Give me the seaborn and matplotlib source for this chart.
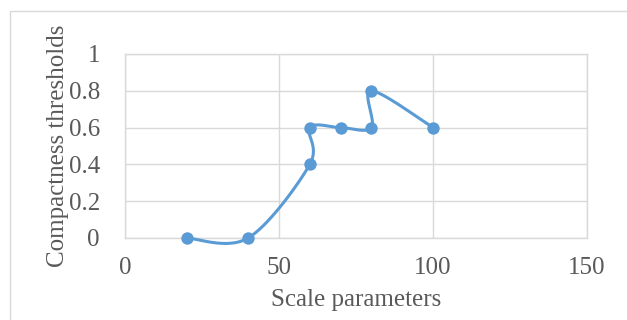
import numpy as np
import pandas as pd
import matplotlib
matplotlib.use("Agg")
import matplotlib.pyplot as plt
from matplotlib.patches import Rectangle
import seaborn as sns

# Data
scale_params = [20, 40, 60, 60, 70, 80, 80, 100]
thresholds = [0.0, 0.0, 0.4, 0.6, 0.6, 0.6, 0.8, 0.6]
x_ticks = [0, 50, 100, 150]
y_ticks = [0, 0.2, 0.4, 0.6, 0.8, 1]
y_tick_labels = ["0", "0.2", "0.4", "0.6", "0.8", "1"]

sns.set_style("white")
plt.rcParams["font.family"] = ["Liberation Serif", "DejaVu Serif"]

LINE = "#5b9bd5"
GRID = "#d9d9d9"
TEXT = "#595959"


def smooth_path(xs, ys, n=40):
    """Cardinal (Catmull-Rom) Bezier smoothing through the points, in order."""
    P = np.column_stack([xs, ys]).astype(float)
    m = len(P)
    out = []
    for i in range(m - 1):
        p0 = P[i - 1] if i > 0 else P[i]
        p1, p2 = P[i], P[i + 1]
        p3 = P[i + 2] if i + 2 < m else P[i + 1]
        c1 = p1 + (p2 - p0) / 6.0
        c2 = p2 - (p3 - p1) / 6.0
        t = np.linspace(0, 1, n)[:, None]
        seg = ((1 - t) ** 3) * p1 + 3 * ((1 - t) ** 2) * t * c1 + 3 * (1 - t) * t ** 2 * c2 + t ** 3 * p2
        out.append(seg if i == 0 else seg[1:])
    return np.vstack(out)


curve = smooth_path(scale_params, thresholds)
curve_df = pd.DataFrame({"x": curve[:, 0], "y": curve[:, 1]})
pts_df = pd.DataFrame({"x": scale_params, "y": thresholds})

fig = plt.figure(figsize=(6.27, 3.20), dpi=100)
W, H = 627, 320

# chart frame
fig.patches.append(Rectangle((10 / W, -0.1), 1.2, (H - 11) / H + 0.1,
                             transform=fig.transFigure, fill=False,
                             edgecolor=GRID, linewidth=1.0))

ax = fig.add_axes([125 / W, (H - 238) / H, 462 / W, 184 / H])

sns.lineplot(data=curve_df, x="x", y="y", sort=False, estimator=None,
             color=LINE, linewidth=2.2, ax=ax, zorder=3, clip_on=False)
sns.scatterplot(data=pts_df, x="x", y="y", color=LINE, s=80, edgecolor=LINE,
                linewidth=0, ax=ax, zorder=4, clip_on=False)

ax.set_xlim(0, 150)
ax.set_ylim(0, 1)
ax.set_xticks(x_ticks)
ax.set_yticks(y_ticks)
ax.set_yticklabels(y_tick_labels)
ax.grid(True, color=GRID, linewidth=1.0)
ax.set_axisbelow(True)
for s in ax.spines.values():
    s.set_color(GRID)
    s.set_linewidth(1.0)
ax.tick_params(axis="both", length=0, labelsize=18, labelcolor=TEXT)
ax.tick_params(axis="y", pad=18)
ax.tick_params(axis="x", pad=14)

ax.set_xlabel("Scale parameters", fontsize=18, color=TEXT, labelpad=7)
ax.set_ylabel("Compactness thresholds", fontsize=18, color=TEXT, labelpad=0)

fig.savefig("out.png", dpi=100)
